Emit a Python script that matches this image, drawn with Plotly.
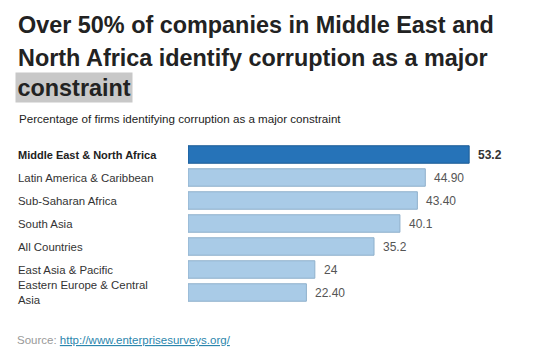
import plotly.graph_objects as go

categories = ["Middle East & North Africa", "Latin America & Caribbean", "Sub-Saharan Africa",
              "South Asia", "All Countries", "East Asia & Pacific", "Eastern Europe & Central<br>Asia"]
values = [53.2, 44.90, 43.40, 40.1, 35.2, 24, 22.40]
value_labels = ["53.2", "44.90", "43.40", "40.1", "35.2", "24", "22.40"]
highlight = [True, False, False, False, False, False, False]

title_lines = ["Over 50% of companies in Middle East and",
               "North Africa identify corruption as a major",
               "constraint"]
subtitle = "Percentage of firms identifying corruption as a major constraint"
source_url = "http://www.enterprisesurveys.org/"

W, H = 550, 359
ML, MR, MT, MB = 188, 20, 143, 55
pw = W - ML - MR

fill = ["#2673b8" if h else "#a9cbe7" for h in highlight]
line = ["#1b5b95" if h else "#8fb0cb" for h in highlight]

fig = go.Figure(go.Bar(
    x=values, y=list(range(len(categories))), orientation="h",
    marker=dict(color=fill, line=dict(color=line, width=1)),
    hoverinfo="skip",
))

def px_x(p):
    return (p - ML) / pw

def px_y(p):
    return 1 + (MT - p) / (H - MT - MB)

FONT = "Arial, Liberation Sans"
ann = []
for i, (c, v, lab, h) in enumerate(zip(categories, values, value_labels, highlight)):
    ann.append(dict(x=px_x(16), xref="paper", y=i, yref="y", text=f"<b>{c}</b>" if h else c,
                    xanchor="left", yanchor="middle", align="left", showarrow=False,
                    font=dict(family=FONT, size=11 if h else 11.4, color="#222" if h else "#333")))
    ann.append(dict(x=v, xref="x", y=i, yref="y", text=f"<b>{lab}</b>" if h else lab,
                    xanchor="left", yanchor="middle", xshift=7, showarrow=False,
                    font=dict(family=FONT, size=12, color="#333" if h else "#555")))

ys = [25, 57.5, 87.5]
for k, t in enumerate(title_lines):
    a = dict(x=px_x(16), xref="paper", y=px_y(ys[k]), yref="paper",
             text=f"<b>{t}</b>", xanchor="left", yanchor="middle", showarrow=False,
             font=dict(family=FONT, size=23.4, color="#222"))
    if k == 2:
        a["bgcolor"] = "#c8c8c8"
        a["borderpad"] = 1.5
        a["x"] = px_x(15)
    ann.append(a)

ann.append(dict(x=px_x(17), xref="paper", y=px_y(118), yref="paper",
                text=subtitle, xanchor="left", yanchor="middle", showarrow=False,
                font=dict(family=FONT, size=11.6, color="#222")))
ann.append(dict(x=px_x(15), xref="paper", y=px_y(340), yref="paper",
                text=f"<span style='color:#999'>Source: </span><a href='{source_url}' style='color:#2b86ad;text-decoration:underline'>{source_url}</a>",
                xanchor="left", yanchor="middle", showarrow=False,
                font=dict(family=FONT, size=11.5, color="#2b86ad")))

fig.update_layout(
    width=W, height=H, margin=dict(l=ML, r=MR, t=MT, b=MB),
    paper_bgcolor="white", plot_bgcolor="white",
    xaxis=dict(range=[0, pw / 5.285], visible=False, fixedrange=True),
    yaxis=dict(range=[len(categories) - 0.5, -0.5], visible=False, fixedrange=True),
    bargap=0.24, showlegend=False, annotations=ann,
)
fig.write_html("out.html", config={"displayModeBar": False},
               post_script="document.body.style.margin='0';document.body.style.overflow='hidden';")
